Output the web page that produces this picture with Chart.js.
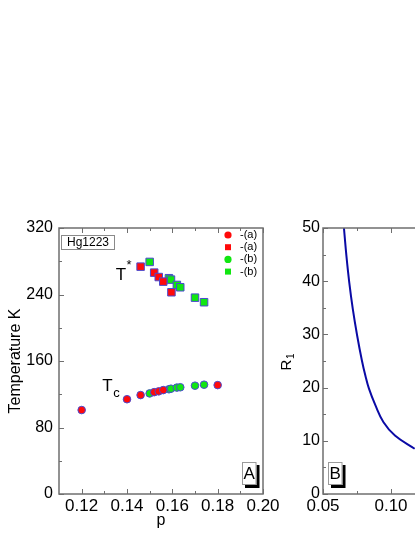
<!DOCTYPE html>
<html>
<head>
<meta charset="utf-8">
<script src="https://cdn.jsdelivr.net/npm/chart.js@4.4.0/dist/chart.umd.min.js"></script>
<style>
html, body { margin: 0; padding: 0; background: #fff; overflow: hidden; width: 415px; height: 537px; }
canvas { position: absolute; top: 200px; }
#chartA { left: 0; }
#chartB { left: 265px; }
</style>
</head>
<body>
<canvas id="chartA" width="290" height="337"></canvas>
<canvas id="chartB" width="290" height="337"></canvas>
<script>
// panel A - Hg1223, Tc and T* against p
var pTcA = [0.120, 0.140, 0.146, 0.152, 0.154, 0.156, 0.180];
var tcA  = [101, 114, 119, 122.5, 123.5, 125, 131];
var pTsA = [0.146, 0.152, 0.154, 0.156, 0.1596];
var tsA  = [273.5, 266.3, 261, 255.5, 242.7];
var pTcB = [0.150, 0.1585, 0.1594, 0.162, 0.1635, 0.170, 0.174];
var tcB  = [121, 126, 126.7, 128, 128.4, 130.3, 131.5];
var pTsB = [0.150, 0.1585, 0.1594, 0.162, 0.1635, 0.170, 0.174];
var tsB  = [279.2, 259.6, 257.9, 251.5, 248.7, 236.2, 230.7];

var pTicksA = [0.12, 0.14, 0.16, 0.18, 0.20];
var tTicks  = [0, 80, 160, 240, 320];

// panel B - R1 against p
var pR = [0.0654, 0.0672, 0.0693, 0.0719, 0.0751, 0.0786, 0.0811, 0.0838, 0.0885, 0.0945, 0.1029, 0.1174];
var r1 = [50, 44.8, 39.8, 34.8, 29.8, 25.1, 22.3, 19.8, 16.7, 13.5, 11.0, 8.5];

var pTicksB = [0.05, 0.10, 0.15, 0.20];
var rTicks  = [0, 10, 20, 30, 40, 50];

var FONT = '"Liberation Sans", Arial, sans-serif';
var AXIS = '#6f6f6f';
var EDGE = '#4a4ad0';
var RED = '#ff0a0a';
var GREEN = '#11e611';

Chart.defaults.font.family = FONT;
Chart.defaults.color = '#000';

function pts(xs, ys) {
	return xs.map(function (x, i) { return { x: x, y: ys[i] }; });
}

function minorOf(t) {
	var m = [];
	for (var i = 0; i < t.length - 1; i++) m.push((t[i] + t[i + 1]) / 2);
	return m;
}

function fixTicks(list) {
	return function (scale) {
		scale.ticks = list.map(function (v) { return { value: v }; });
	};
}

// frame round the plot with inward ticks (major + minor), mirrored on top
var framePlugin = {
	id: 'frame',
	afterDraw: function (chart) {
		var ctx = chart.ctx, a = chart.chartArea;
		var sx = chart.scales.x, sy = chart.scales.y;
		var xt = sx.ticks.map(function (t) { return t.value; });
		var yt = sy.ticks.map(function (t) { return t.value; });
		ctx.save();
		ctx.strokeStyle = AXIS;
		ctx.lineWidth = 1;
		ctx.beginPath();
		function xTick(v, len) {
			var px = Math.round(sx.getPixelForValue(v)) + 0.5;
			ctx.moveTo(px, a.bottom); ctx.lineTo(px, a.bottom - len);
			ctx.moveTo(px, a.top); ctx.lineTo(px, a.top + len);
		}
		function yTick(v, len) {
			var py = Math.round(sy.getPixelForValue(v)) + 0.5;
			ctx.moveTo(a.left, py); ctx.lineTo(a.left + len, py);
		}
		xt.forEach(function (v) { xTick(v, 5); });
		minorOf(xt).forEach(function (v) { xTick(v, 3); });
		yt.forEach(function (v) { yTick(v, 5); });
		minorOf(yt).forEach(function (v) { yTick(v, 3); });
		ctx.stroke();
		ctx.lineWidth = 1.5;
		ctx.strokeRect(a.left, a.top, a.right - a.left, a.bottom - a.top);
		ctx.restore();
	}
};

// white box with black drop shadow, used for the panel letters
function shadowBox(ctx, x, y, w, h, txt) {
	ctx.fillStyle = '#000';
	ctx.fillRect(x + 3, y + 3, w, h);
	ctx.fillStyle = '#fff';
	ctx.fillRect(x, y, w, h);
	ctx.strokeStyle = '#9a9a9a';
	ctx.lineWidth = 1;
	ctx.strokeRect(x + 0.5, y + 0.5, w - 1, h - 1);
	ctx.fillStyle = '#000';
	ctx.font = '17px ' + FONT;
	ctx.textAlign = 'center';
	ctx.textBaseline = 'middle';
	ctx.fillText(txt, x + w / 2, y + h / 2 + 1);
}

var notesA = {
	id: 'notesA',
	afterDraw: function (chart) {
		var ctx = chart.ctx, a = chart.chartArea;
		var sx = chart.scales.x, sy = chart.scales.y;
		ctx.save();
		// sample box
		ctx.fillStyle = '#fff';
		ctx.fillRect(a.left + 2, a.top + 7, 53, 14);
		ctx.strokeStyle = '#8a8a8a';
		ctx.lineWidth = 1;
		ctx.strokeRect(a.left + 2.5, a.top + 7.5, 53, 14);
		ctx.fillStyle = '#000';
		ctx.font = '12px ' + FONT;
		ctx.textAlign = 'center';
		ctx.textBaseline = 'middle';
		ctx.fillText('Hg1223', a.left + 29, a.top + 15);

		// T* and Tc labels
		ctx.textAlign = 'left';
		ctx.textBaseline = 'alphabetic';
		var x = sx.getPixelForValue(0.135), y = sy.getPixelForValue(257.5);
		ctx.font = '17px ' + FONT;
		ctx.fillText('T', x, y);
		var w = ctx.measureText('T').width;
		ctx.font = '13px ' + FONT;
		ctx.fillText('*', x + w + 0.5, y - 11);

		x = sx.getPixelForValue(0.1291); y = sy.getPixelForValue(124);
		ctx.font = '17px ' + FONT;
		ctx.fillText('T', x, y);
		w = ctx.measureText('T').width;
		ctx.font = '13px ' + FONT;
		ctx.fillText('c', x + w + 0.5, y + 6);

		// legend, from the datasets
		ctx.font = '11px ' + FONT;
		ctx.textBaseline = 'middle';
		chart.data.datasets.forEach(function (ds, i) {
			var cx = a.right - 35, cy = a.top + 7 + i * 12.2;
			ctx.fillStyle = ds.backgroundColor;
			if (ds.pointStyle === 'rect') {
				ctx.fillRect(cx - 3, cy - 3, 6, 6);
			} else {
				ctx.beginPath();
				ctx.arc(cx, cy, 3.6, 0, Math.PI * 2);
				ctx.fill();
			}
			ctx.fillStyle = '#000';
			ctx.fillText(ds.label, a.right - 23, cy);
		});

		shadowBox(ctx, a.right - 21, a.bottom - 32, 14.5, 23, 'A');
		ctx.restore();
	}
};

var notesB = {
	id: 'notesB',
	afterDraw: function (chart) {
		var ctx = chart.ctx, a = chart.chartArea;
		ctx.save();
		shadowBox(ctx, a.left + 5, a.bottom - 32, 14.5, 23, 'B');
		// axis title R1, rotated, with subscript
		ctx.translate(26, (a.top + a.bottom) / 2 + 1);
		ctx.rotate(-Math.PI / 2);
		ctx.fillStyle = '#000';
		ctx.textBaseline = 'alphabetic';
		ctx.textAlign = 'left';
		ctx.font = '15px ' + FONT;
		var w = ctx.measureText('R').width;
		ctx.fillText('R', -w / 2 - 3, 0);
		ctx.font = '10px ' + FONT;
		ctx.fillText('1', w / 2 - 2.5, 3);
		ctx.restore();
	}
};

new Chart(document.getElementById('chartA'), {
	type: 'scatter',
	data: {
		datasets: [
			{ label: '-(a)', data: pts(pTcA, tcA), pointStyle: 'circle', pointRadius: 3.8, backgroundColor: RED, borderColor: EDGE, borderWidth: 1 },
			{ label: '-(a)', data: pts(pTsA, tsA), pointStyle: 'rect', pointRadius: 5.3, backgroundColor: RED, borderColor: EDGE, borderWidth: 1 },
			{ label: '-(b)', data: pts(pTcB, tcB), pointStyle: 'circle', pointRadius: 3.8, backgroundColor: GREEN, borderColor: EDGE, borderWidth: 1 },
			{ label: '-(b)', data: pts(pTsB, tsB), pointStyle: 'rect', pointRadius: 5.3, backgroundColor: GREEN, borderColor: EDGE, borderWidth: 1 }
		]
	},
	options: {
		responsive: false,
		animation: false,
		events: [],
		layout: { padding: { top: 28, right: 27, left: 0, bottom: 0 } },
		plugins: { legend: { display: false }, tooltip: { enabled: false } },
		scales: {
			x: {
				type: 'linear', min: 0.11, max: 0.20,
				afterBuildTicks: fixTicks(pTicksA),
				afterFit: function (s) { s.height = 43; },
				grid: { display: false, drawTicks: false },
				border: { display: false },
				ticks: { padding: 2, maxRotation: 0, autoSkip: false, font: { size: 17 },
					callback: function (v) { return v.toFixed(2); } },
				title: { display: true, text: 'p', font: { size: 16 }, padding: { top: 0, bottom: 7 } }
			},
			y: {
				min: 0, max: 320,
				afterBuildTicks: fixTicks(tTicks),
				afterFit: function (s) { s.width = 59; },
				grid: { display: false, drawTicks: false },
				border: { display: false },
				ticks: { padding: 6, autoSkip: false, font: { size: 16 } },
				title: { display: true, text: 'Temperature K', font: { size: 16 }, padding: { top: 6, bottom: 0 } }
			}
		}
	},
	plugins: [framePlugin, notesA]
});

new Chart(document.getElementById('chartB'), {
	type: 'scatter',
	data: {
		datasets: [
			{ label: 'R1', data: pts(pR, r1), showLine: true, pointRadius: 0, borderColor: '#0a0aa5', borderWidth: 2, tension: 0.4 }
		]
	},
	options: {
		responsive: false,
		animation: false,
		events: [],
		layout: { padding: { top: 28, right: 28, left: 0, bottom: 0 } },
		plugins: { legend: { display: false }, tooltip: { enabled: false } },
		scales: {
			x: {
				type: 'linear', min: 0.05, max: 0.20,
				afterBuildTicks: fixTicks(pTicksB),
				afterFit: function (s) { s.height = 43; },
				grid: { display: false, drawTicks: false },
				border: { display: false },
				ticks: { padding: 2, maxRotation: 0, autoSkip: false, font: { size: 17 },
					callback: function (v) { return v.toFixed(2); } }
			},
			y: {
				min: 0, max: 50,
				afterBuildTicks: fixTicks(rTicks),
				afterFit: function (s) { s.width = 58; },
				grid: { display: false, drawTicks: false },
				border: { display: false },
				ticks: { padding: 3, autoSkip: false, font: { size: 16 } }
			}
		}
	},
	plugins: [framePlugin, notesB]
});
</script>
</body>
</html>
